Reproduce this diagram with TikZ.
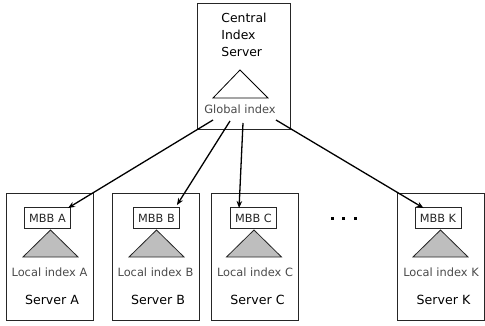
\documentclass[tikz,border=0pt]{standalone}
\usepackage{fontspec}
\setmainfont{DejaVu Sans}
\usetikzlibrary{arrows.meta}
\definecolor{labelgray}{HTML}{4A4A4A}
\definecolor{treegray}{HTML}{BEBEBE}
\tikzset{
  serverbox/.style={draw=black!85, line width=0.9pt, minimum width=87pt, minimum height=127pt, inner sep=0pt},
  mbbbox/.style={draw=black!85, line width=0.9pt, minimum width=46pt, minimum height=21pt, inner sep=0pt,
    font=\fontsize{11.3}{13}\selectfont, text=black!85},
  localtree/.style={draw=black!85, line width=0.8pt, fill=treegray, line join=miter},
  globaltree/.style={draw=black, line width=0.8pt, fill=white},
  locallabel/.style={font=\fontsize{11.4}{13}\selectfont, text=labelgray, inner sep=0pt},
  serverlabel/.style={font=\fontsize{12.6}{14}\selectfont, inner sep=0pt},
  link/.style={draw=black, line width=1.3pt, -{Stealth[length=7pt,width=5.5pt]}},
}
\begin{document}
\begin{tikzpicture}[x=1pt,y=-1pt]
\useasboundingbox (0,0) rectangle (485,326);

% central index server
\node[serverbox, minimum width=93pt, minimum height=126pt] (central) at (243.5,66) {};
\node[align=left, font=\fontsize{12.4}{17}\selectfont, inner sep=0pt] (ctitle) at (244,35)
  {Central\\Index\\Server};
\draw[globaltree] (240,70) -- (268,98) -- (213,98) -- cycle;
\node[locallabel] (global) at (240,109) {Global index};

% local servers
\foreach \id/\bx/\mx/\tx in {A/49.5/47.5/50.5, B/155.5/156.5/156.5, C/255/253.5/254, K/441/438/440.5}{
  \node[serverbox] (srv\id) at (\bx,256.5) {};
  \draw[localtree] (\tx,230) -- (\tx+27.5,257) -- (\tx-27.5,257) -- cycle;
  \node[mbbbox] (mbb\id) at (\mx,218) {MBB \id};
  \node[locallabel] (local\id) at (\bx,272) {Local index \id};
  \node[serverlabel] (name\id) at (\bx+2.5,300) {Server \id};
}

% ellipsis between the servers
\foreach \x [count=\i] in {332,343.5,355}{
  \node[fill=black, minimum size=3pt, inner sep=0pt] (dot\i) at (\x,219) {};
}

% links from the global index to each MBB
\coordinate (outA) at (213,120);
\coordinate (outB) at (230,121);
\coordinate (outC) at (243,123);
\coordinate (outK) at (276,120);
\draw[link] (outA) -- ([xshift=-3pt,yshift=-1pt]mbbA.north east);
\draw[link] (outB) -- ([xshift=-3pt,yshift=2pt]mbbB.north east);
\draw[link] (outC) -- ([xshift=9pt,yshift=-1pt]mbbC.north west);
\draw[link] (outK) -- ([xshift=9pt,yshift=-1pt]mbbK.north west);
\end{tikzpicture}
\end{document}
